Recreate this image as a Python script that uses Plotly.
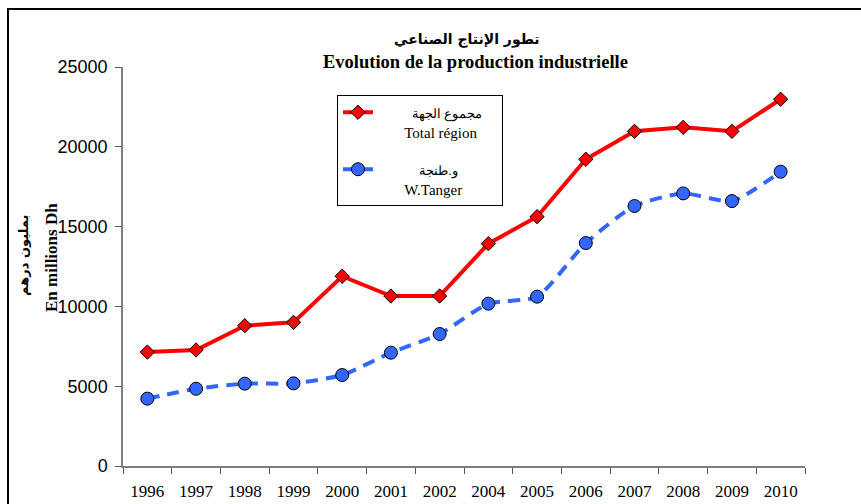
import plotly.graph_objects as go

years = ["1996", "1997", "1998", "1999", "2000", "2001", "2002", "2004",
         "2005", "2006", "2007", "2008", "2009", "2010"]
total_region = [7140, 7270, 8790, 9000, 11890, 10650, 10650, 13930,
                15620, 19220, 20970, 21220, 20970, 22980]
w_tanger = [4220, 4840, 5160, 5180, 5700, 7100, 8270, 10170,
            10610, 13970, 16290, 17080, 16600, 18440]
NB = "\u00a0"
AR = "<span style='font-size:13px'>%s</span>"
name_total = NB * 9 + AR % "مجموع الجهة" + NB * 4 + "<br>" + NB * 7 + "Total région" + NB * 3
name_tanger = NB * 11 + AR % "و.طنجة" + "<br>" + NB * 7 + "W.Tanger"
title_ar = "<b>تطور الإنتاج الصناعي</b>"
title_fr = "<b>Evolution de la production industrielle</b>"
ytitle_ar = "<b>بمليون درهم</b>"
ytitle_fr = "<b>En millions Dh</b>"
y_ticks = [0, 5000, 10000, 15000, 20000, 25000]
y_ticktext = ["0", "5000", "10000", "15000", "20000", "25000"]

W, H = 861, 504
L, R, T, B = 123, 56, 67, 38
pw, ph = W - L - R, H - T - B

def px(x):
    return (x - L) / pw

def py(y):
    return (H - B - y) / ph

serif = "Liberation Serif, Times New Roman, serif"

fig = go.Figure()
fig.add_trace(go.Scatter(
    x=years, y=total_region, name=name_total, mode="lines+markers",
    legendgroup="a",
    line=dict(color="#FF0000", width=4),
    marker=dict(symbol="diamond", size=11, color="#FF0000",
                line=dict(color="black", width=1)),
))
fig.add_trace(go.Scatter(
    x=years, y=w_tanger, name=name_tanger, mode="lines+markers",
    legendgroup="b",
    line=dict(color="#3366FF", width=4, dash="12px,8px", shape="spline", smoothing=0.6),
    marker=dict(symbol="circle", size=13, color="#3366FF",
                line=dict(color="black", width=1)),
))

fig.update_layout(
    width=W, height=H,
    margin=dict(l=L, r=R, t=T, b=B, autoexpand=False),
    paper_bgcolor="white", plot_bgcolor="white",
    showlegend=True,
    legend=dict(
        x=px(337), y=py(95), xanchor="left", yanchor="top",
        bgcolor="white", bordercolor="black", borderwidth=1,
        font=dict(family=serif, size=15, color="black"),
        valign="top", traceorder="grouped", tracegroupgap=15,
    ),
    xaxis=dict(
        type="category", range=[-0.5, 13.5], automargin=False,
        showgrid=False, zeroline=False,
        showline=True, linecolor="#7f7f7f", linewidth=1.5,
        ticks="outside", tickson="boundaries", ticklen=6, tickcolor="#555555",
        tickfont=dict(family=serif, size=17, color="black"),
        ticklabelstandoff=9,
    ),
    yaxis=dict(
        range=[0, 25000], tickvals=y_ticks, ticktext=y_ticktext, automargin=False,
        showgrid=False, zeroline=False,
        showline=True, linecolor="#7f7f7f", linewidth=1.5,
        ticks="outside", ticklen=6, tickcolor="#555555",
        tickfont=dict(family="Liberation Sans, Arial, sans-serif", size=18, color="black"),
        ticklabelstandoff=4,
    ),
    shapes=[dict(type="rect", xref="paper", yref="paper",
                 x0=px(8), y0=py(520), x1=px(880), y1=py(9),
                 line=dict(color="black", width=2), layer="below")],
    annotations=[
        dict(text=title_ar, xref="paper", yref="paper", x=px(467), y=py(40),
             xanchor="center", yanchor="middle",
             showarrow=False, font=dict(family="DejaVu Sans", size=14, color="black")),
        dict(text=title_fr, xref="paper", yref="paper", x=px(475), y=py(62),
             xanchor="center", yanchor="middle",
             showarrow=False, font=dict(family=serif, size=18.5, color="black")),
        dict(text=ytitle_ar, xref="paper", yref="paper", x=px(23), y=py(256),
             xanchor="center", yanchor="middle",
             textangle=-90, showarrow=False,
             font=dict(family="DejaVu Sans", size=13, color="black")),
        dict(text=ytitle_fr, xref="paper", yref="paper", x=px(51), y=py(258),
             xanchor="center", yanchor="middle",
             textangle=-90, showarrow=False,
             font=dict(family=serif, size=17, color="black")),
    ],
)

fig.write_html("out.html", config={"displayModeBar": False},
               post_script="document.body.style.margin='0px';")
